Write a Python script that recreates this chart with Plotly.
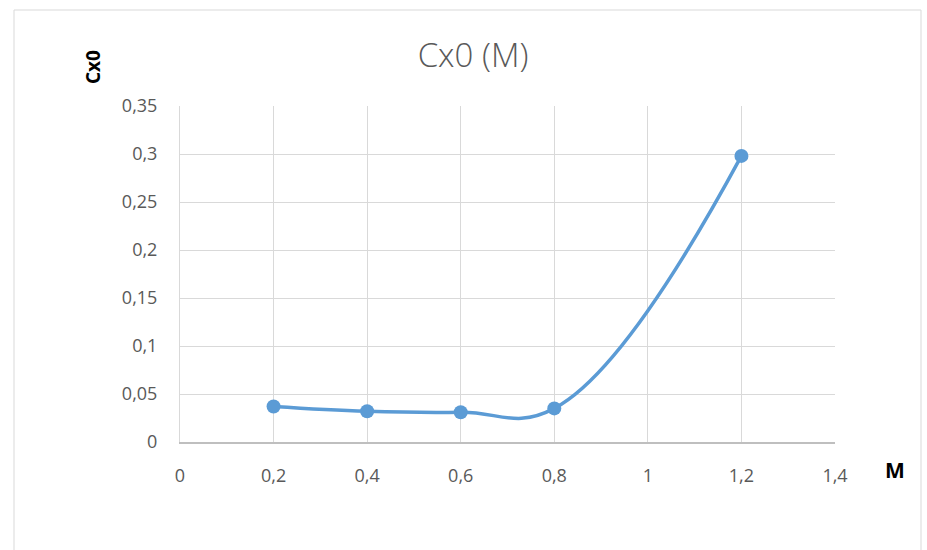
import plotly.graph_objects as go

mach = [0.2, 0.4, 0.6, 0.8, 1.2]
cx0 = [0.037, 0.032, 0.031, 0.035, 0.298]
x_ticks = [0, 0.2, 0.4, 0.6, 0.8, 1.0, 1.2, 1.4]
x_labels = ["0", "0,2", "0,4", "0,6", "0,8", "1", "1,2", "1,4"]
y_ticks = [0, 0.05, 0.1, 0.15, 0.2, 0.25, 0.3, 0.35]
y_labels = ["0", "0,05", "0,1", "0,15", "0,2", "0,25", "0,3", "0,35"]

fig = go.Figure()
fig.add_trace(go.Scatter(
    x=mach, y=cx0, mode="lines+markers",
    line=dict(color="#5b9bd5", width=3.5, shape="spline", smoothing=1.2),
    marker=dict(color="#5b9bd5", size=14),
    showlegend=False,
))

tickfont = dict(family="Open Sans, Liberation Sans, sans-serif", size=18, color="#595959")
fig.update_layout(
    width=927, height=550,
    margin=dict(l=180, r=92, t=106, b=108),
    paper_bgcolor="white", plot_bgcolor="white",
    title=dict(text="Cx0 (M)", x=(473) / 927, xanchor="center", y=1 - 55 / 550, yanchor="middle",
               font=dict(family="Open Sans, Liberation Sans, sans-serif", size=33, color="#595959", weight=300)),
    xaxis=dict(range=[0, 1.4], tickvals=x_ticks, ticktext=x_labels, tickfont=tickfont,
               showgrid=True, gridcolor="#d9d9d9", gridwidth=1, zeroline=False,
               showline=True, linecolor="#bfbfbf", linewidth=1.5,
               ticks="outside", ticklen=17, tickcolor="rgba(0,0,0,0)"),
    yaxis=dict(range=[0, 0.35], tickvals=y_ticks, ticktext=y_labels, tickfont=tickfont,
               showgrid=True, gridcolor="#d9d9d9", gridwidth=1, zeroline=False,
               showline=True, linecolor="#d9d9d9", linewidth=1,
               ticks="outside", ticklen=18, tickcolor="rgba(0,0,0,0)"),
    shapes=[dict(type="rect", xref="paper", yref="paper",
                 x0=(14 - 180) / 655, x1=(921 - 180) / 655,
                 y0=(442 - 570) / 336, y1=(442 - 10) / 336,
                 line=dict(color="#d9d9d9", width=1), layer="below")],
    annotations=[
        dict(text="<b>Cx0</b>", xref="paper", yref="paper", x=(93 - 180) / 655, y=(442 - 67) / 336,
             textangle=-90, showarrow=False, xanchor="center", yanchor="middle",
             font=dict(family="Open Sans, Liberation Sans, sans-serif", size=19, color="#000000")),
        dict(text="<b>M</b>", xref="paper", yref="paper", x=(895 - 180) / 655, y=(442 - 470) / 336,
             showarrow=False, xanchor="center", yanchor="middle",
             font=dict(family="Open Sans, Liberation Sans, sans-serif", size=21, color="#000000")),
    ],
)

fig.write_html("out.html")
